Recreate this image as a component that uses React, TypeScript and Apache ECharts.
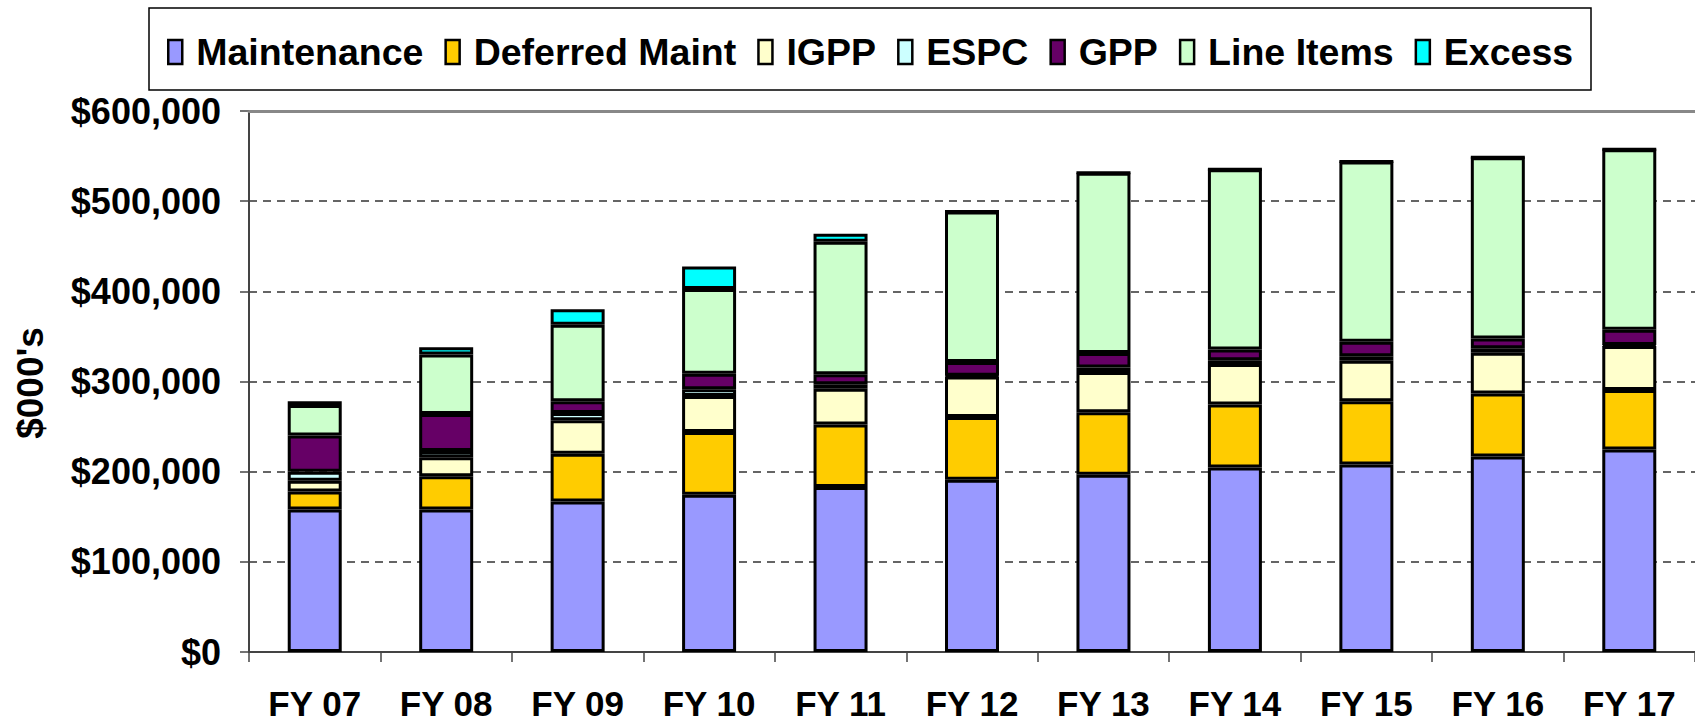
import React, { useEffect, useRef } from "react";
import * as echarts from "echarts";

const years = ["FY 07", "FY 08", "FY 09", "FY 10", "FY 11", "FY 12", "FY 13", "FY 14", "FY 15", "FY 16", "FY 17"];
const maintenance = [158000, 158000, 167000, 174500, 183000, 191000, 196500, 204500, 208000, 216800, 224500];
const deferredMaint = [20000, 37000, 53000, 69500, 69400, 69500, 69500, 70000, 70000, 70000, 66000];
const igpp = [12000, 21000, 37000, 40000, 39600, 45000, 44500, 45000, 45000, 45000, 49000];
const espc = [10000, 7000, 8000, 7500, 5000, 1000, 5000, 4000, 5000, 5000, 1000];
const gpp = [40000, 41000, 13000, 17000, 11000, 15000, 16000, 12000, 16000, 11000, 17000];
const lineItems = [34000, 66000, 85000, 94000, 147000, 167000, 200000, 200000, 200000, 201000, 200000];
const excess = [4000, 8000, 17000, 25000, 9000, 0, 0, 0, 0, 0, 0];

const seriesDefs = [
  { name: "Maintenance", data: maintenance, color: "#9999FF" },
  { name: "Deferred Maint", data: deferredMaint, color: "#FFCC00" },
  { name: "IGPP", data: igpp, color: "#FFFFCC" },
  { name: "ESPC", data: espc, color: "#CCFFFF" },
  { name: "GPP", data: gpp, color: "#660066" },
  { name: "Line Items", data: lineItems, color: "#CCFFCC" },
  { name: "Excess", data: excess, color: "#00FFFF" },
];

const FONT = "'Liberation Sans', Arial, sans-serif";

export default function App() {
  const ref = useRef<HTMLDivElement>(null);
  useEffect(() => {
    if (!ref.current) return;
    const chart = echarts.init(ref.current, null, { renderer: "svg" });
    chart.setOption({
      animation: false,
      backgroundColor: "#fff",
      textStyle: { fontFamily: FONT },
      grid: { left: 249, top: 111, width: 1461, height: 541 },
      legend: {
        left: 162,
        top: 28,
        icon: "rect",
        itemWidth: 14,
        itemHeight: 24,
        itemGap: 21,
        itemStyle: { borderColor: "#000", borderWidth: 2.5 },
        textStyle: { fontSize: 37.5, fontWeight: "bold", color: "#000", fontFamily: FONT, padding: [0, 0, 0, 9] },
        data: seriesDefs.map((s) => s.name),
      },
      graphic: [
        {
          type: "rect",
          shape: { x: 149, y: 8, width: 1442, height: 82 },
          style: { fill: "none", stroke: "#000", lineWidth: 1.5 },
          z: 1,
        },
        {
          type: "text",
          x: 30,
          y: 383,
          rotation: Math.PI / 2,
          style: {
            text: "$000's",
            fontSize: 37,
            fontWeight: "bold",
            fontFamily: FONT,
            fill: "#000",
            align: "center",
            verticalAlign: "middle",
          },
        },
      ],
      xAxis: [
        {
          type: "category",
          data: years,
          axisLine: { lineStyle: { color: "#444", width: 2 } },
          axisTick: { show: true, length: 10, lineStyle: { color: "#444", width: 1.5 } },
          axisLabel: { margin: 34, fontSize: 35, fontWeight: "bold", color: "#000", fontFamily: FONT },
        },
        {
          type: "category",
          data: years,
          position: "top",
          z: 5,
          axisLine: { show: true, lineStyle: { color: "#888", width: 3 } },
          axisTick: { show: false },
          axisLabel: { show: false },
        },
      ],
      yAxis: {
        type: "value",
        min: 0,
        max: 600000,
        interval: 100000,
        axisLine: { show: true, lineStyle: { color: "#444", width: 2 } },
        axisTick: { show: true, length: 9, lineStyle: { color: "#444", width: 1.5 } },
        axisLabel: {
          margin: 28,
          fontSize: 36,
          fontWeight: "bold",
          color: "#000",
          fontFamily: FONT,
          formatter: (v: number) => "$" + v.toLocaleString("en-US"),
        },
        splitLine: { show: true, lineStyle: { color: "#333", width: 1.5, type: [8, 6] } },
      },
      series: seriesDefs.map((s) => ({
        name: s.name,
        type: "bar",
        stack: "total",
        xAxisIndex: 0,
        barWidth: 54,
        data: s.data,
        itemStyle: { color: s.color, borderColor: "#000", borderWidth: 3 },
      })),
    });
    return () => chart.dispose();
  }, []);
  return <div ref={ref} style={{ position: "fixed", left: 0, top: 0, width: 1695, height: 725 }} />;
}
